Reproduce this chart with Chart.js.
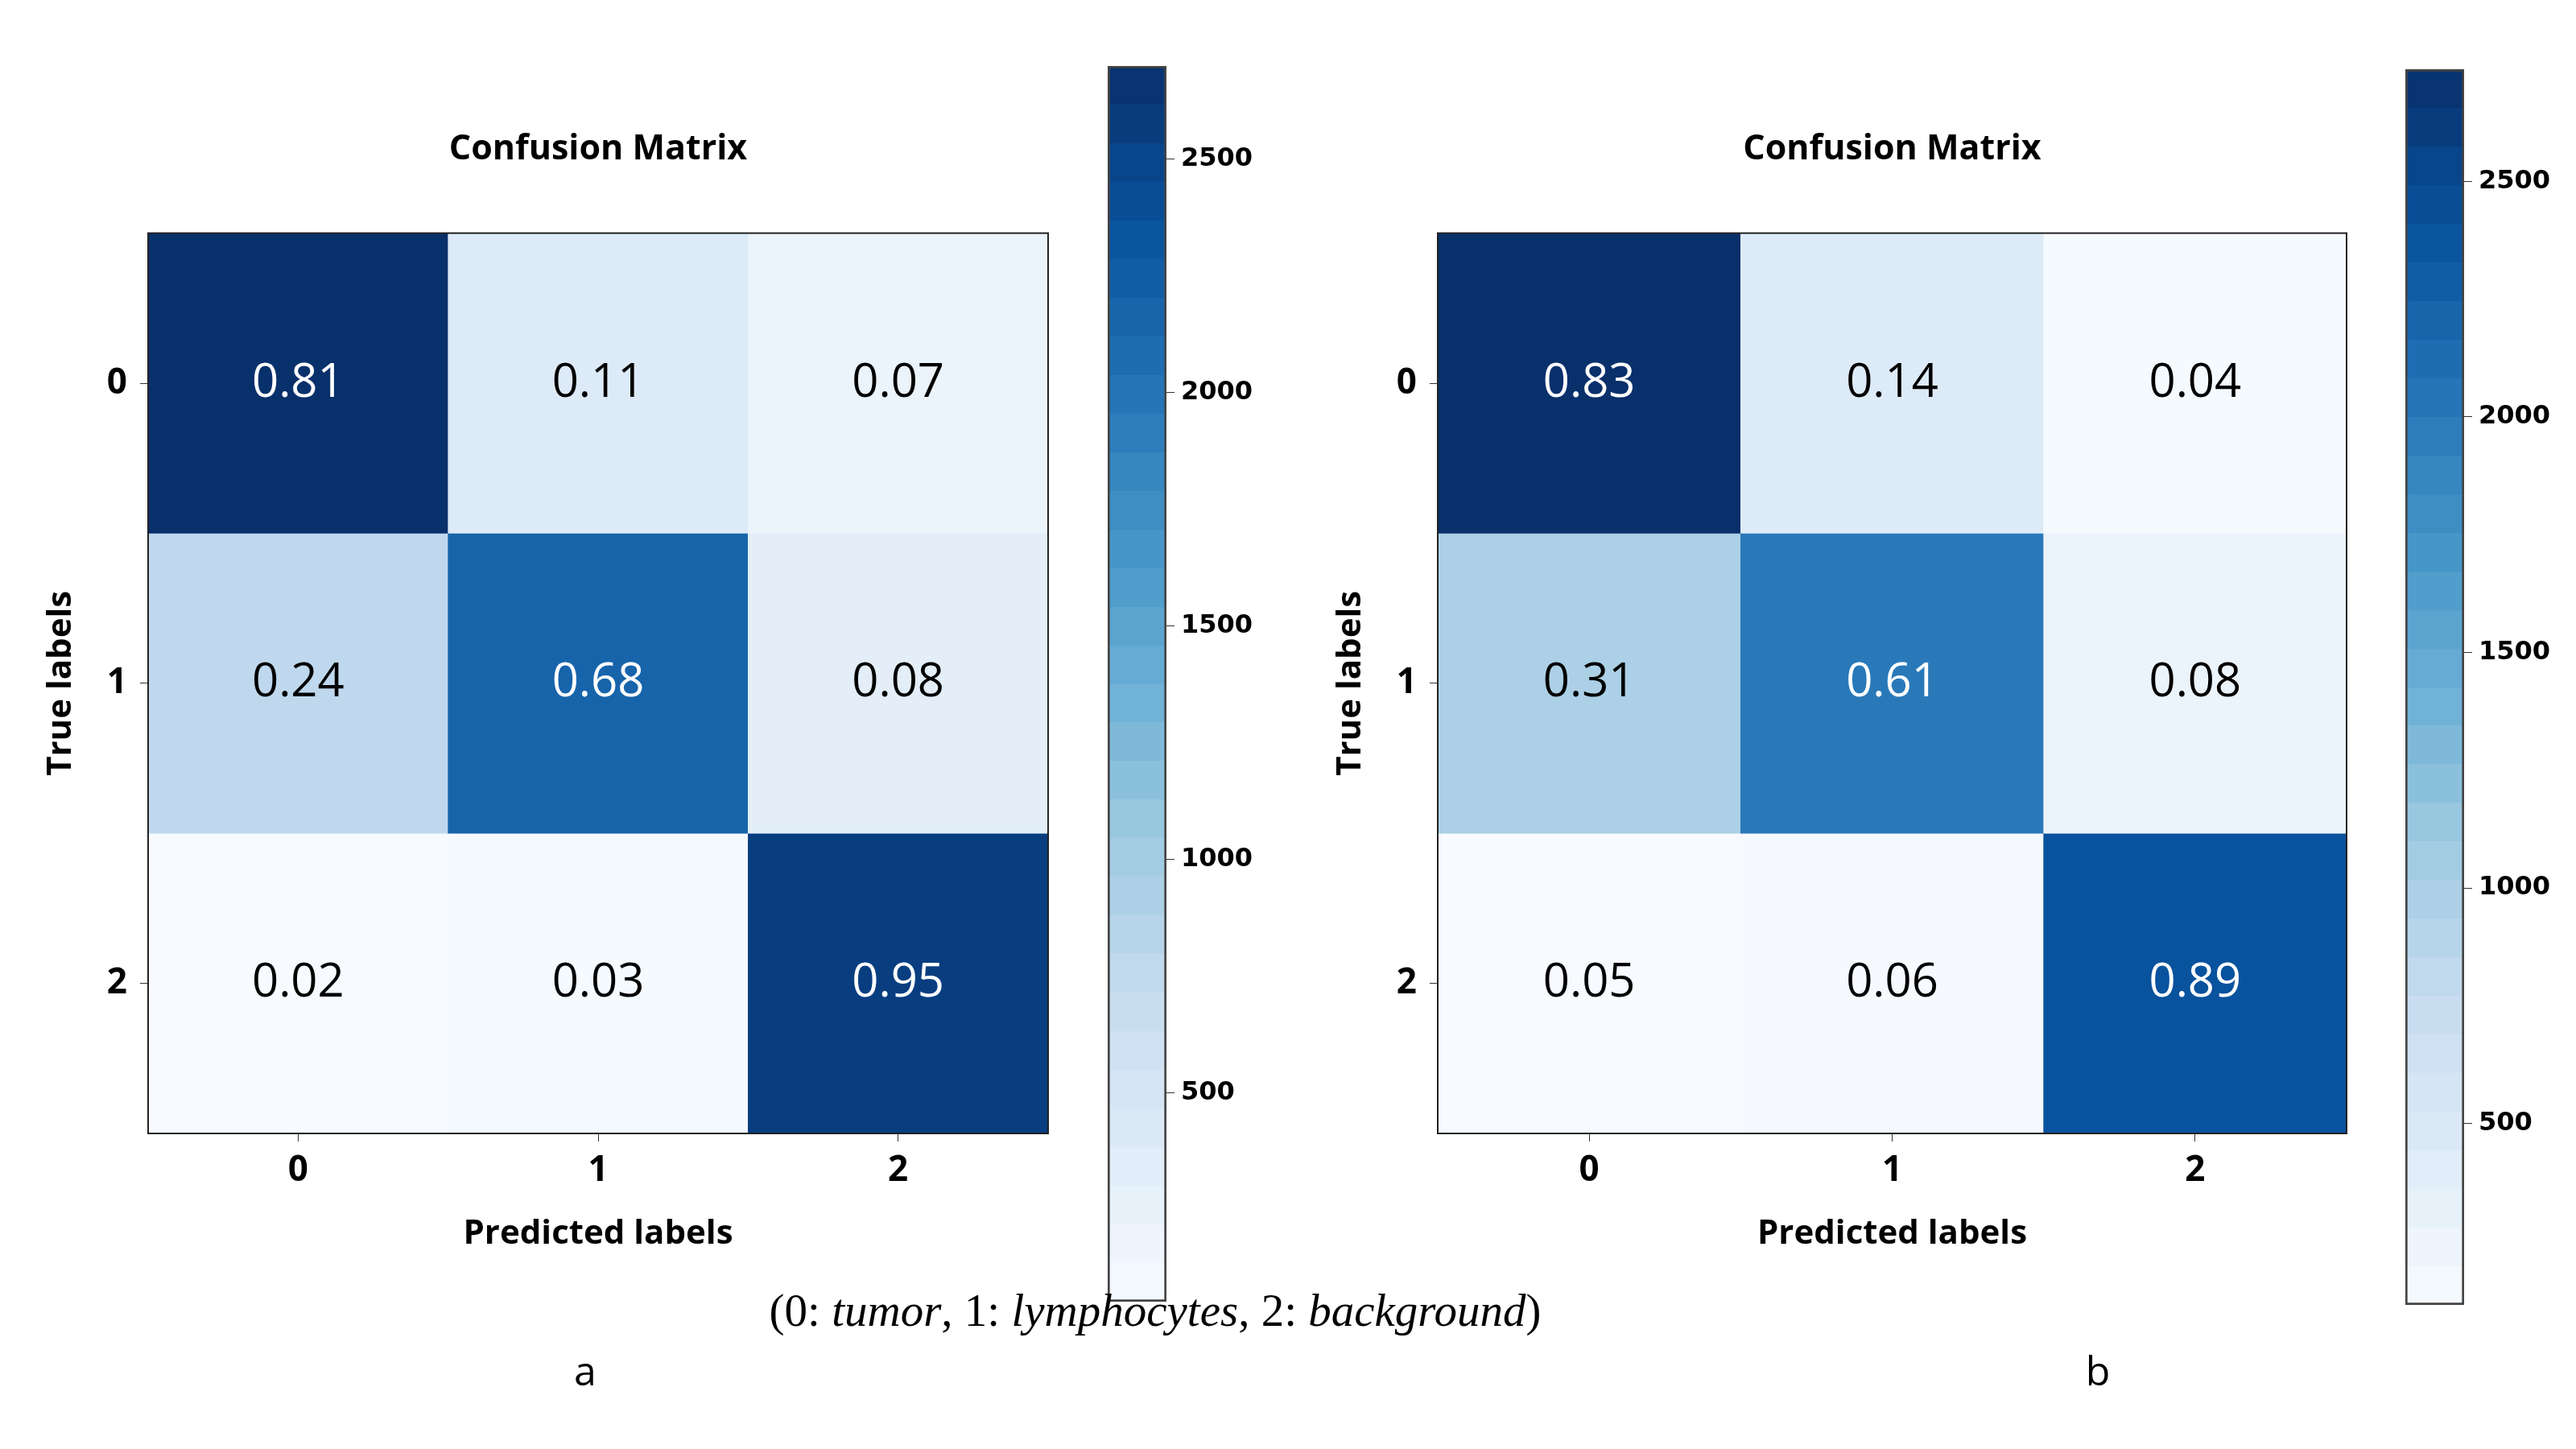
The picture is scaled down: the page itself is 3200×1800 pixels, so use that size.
<!DOCTYPE html>
<html>
<head>
<meta charset="utf-8">
<script src="https://cdn.jsdelivr.net/npm/chart.js@4.4.1/dist/chart.umd.min.js"></script>
<style>
  html, body { margin: 0; padding: 0; background: #fff; }
  #page { position: relative; width: 3200px; height: 1800px; background: #fff; overflow: hidden; }
  canvas { position: absolute; }
  .txt { position: absolute; transform: translate(-50%, -50%); white-space: nowrap; color: #000; }
  #caption { font-family: 'Liberation Serif', 'DejaVu Serif', serif; font-size: 57px; }
  .panel { font-family: 'Open Sans', sans-serif; font-size: 50px; }
</style>
</head>
<body>
<div id="page">
  <canvas id="cmA" width="1502" height="1600" style="left:0px;top:0px"></canvas>
  <canvas id="barA" width="250" height="1535" style="left:1376px;top:82px"></canvas>
  <canvas id="cmB" width="1482" height="1600" style="left:1602px;top:0px"></canvas>
  <canvas id="barB" width="250" height="1535" style="left:2988px;top:86px"></canvas>
  <div id="caption" class="txt" style="left:1435px;top:1627px">(0: <i>tumor</i>, 1: <i>lymphocytes</i>, 2: <i>background</i>)</div>
  <div class="txt panel" style="left:727px;top:1702px">a</div>
  <div class="txt panel" style="left:2606px;top:1702px">b</div>
</div>
<script>
// class ids on both axes
const classLabels = ['0', '1', '2'];

// panel a: printed (row-normalised) values and the counts behind the colours
const ratiosA = [[0.81, 0.11, 0.07], [0.24, 0.68, 0.08], [0.02, 0.03, 0.95]];
const countsA = [[2700, 395, 210], [770, 2170, 320], [53, 80, 2560]];

// panel b
const ratiosB = [[0.83, 0.14, 0.04], [0.31, 0.61, 0.08], [0.05, 0.06, 0.89]];
const countsB = [[2738, 455, 140], [980, 2000, 270], [115, 130, 2400]];

const cbarTicks = [500, 1000, 1500, 2000, 2500];

// matplotlib "Blues"
const bluesStops = ['#f7fbff', '#deebf7', '#c6dbef', '#9ecae1', '#6baed6', '#4292c6', '#2171b5', '#08519c', '#08306b'];

function hexRgb(h) {
  return [1, 3, 5].map(i => parseInt(h.substr(i, 2), 16));
}
function blues(t) {
  t = Math.max(0, Math.min(1, t));
  const p = t * (bluesStops.length - 1);
  const i = Math.min(Math.floor(p), bluesStops.length - 2);
  const f = p - i;
  const a = hexRgb(bluesStops[i]), b = hexRgb(bluesStops[i + 1]);
  const c = a.map((v, k) => Math.round(v + (b[k] - v) * f));
  return 'rgb(' + c.join(',') + ')';
}

const boldFont = (size) => ({ family: "'Open Sans', sans-serif", size: size, weight: 'bold' });

// writes the value in each cell
const cellText = {
  id: 'cellText',
  afterDatasetsDraw(chart) {
    const ctx = chart.ctx;
    ctx.save();
    ctx.font = "58px 'Open Sans', sans-serif";
    ctx.textAlign = 'center';
    ctx.textBaseline = 'middle';
    chart.data.datasets.forEach((ds, r) => {
      chart.getDatasetMeta(r).data.forEach((bar, c) => {
        const p = bar.getProps(['x', 'y', 'base'], true);
        ctx.fillStyle = ds.textColor[c];
        ctx.fillText(ds.ratios[c].toFixed(2), p.x, (p.y + p.base) / 2);
      });
    });
    ctx.restore();
  }
};

// box round the plot
const frame = {
  id: 'frame',
  afterDraw(chart) {
    const a = chart.chartArea, ctx = chart.ctx;
    ctx.save();
    ctx.strokeStyle = '#222';
    ctx.lineWidth = 2;
    ctx.strokeRect(a.left, a.top, a.right - a.left, a.bottom - a.top);
    ctx.restore();
  }
};

function makeMatrix(id, ratios, counts, padRight) {
  const lo = Math.min(...counts.flat()), hi = Math.max(...counts.flat());
  const datasets = ratios.map((row, r) => ({
    label: 'True ' + classLabels[r],
    data: row.map(() => [r - 0.5, r + 0.5]),
    ratios: row,
    backgroundColor: counts[r].map(v => blues((v - lo) / (hi - lo))),
    textColor: counts[r].map(v => v > (lo + hi) / 2 ? '#fff' : '#000'),
    borderWidth: 0,
    barPercentage: 1,
    categoryPercentage: 1,
    grouped: false
  }));

  new Chart(document.getElementById(id), {
    type: 'bar',
    data: { labels: classLabels, datasets: datasets },
    options: {
      responsive: false,
      devicePixelRatio: 1,
      animation: false,
      layout: { padding: { left: 0, right: padRight, top: 0, bottom: 42 } },
      plugins: {
        legend: { display: false },
        tooltip: { enabled: false },
        title: {
          display: true,
          fullSize: false,
          text: 'Confusion Matrix',
          color: '#000',
          font: boldFont(43),
          padding: { top: 160, bottom: 78 }
        }
      },
      scales: {
        x: {
          type: 'category',
          position: 'bottom',
          grid: { display: true, drawOnChartArea: false, drawTicks: true, tickLength: 10, offset: false, color: '#333' },
          border: { display: false },
          ticks: { color: '#000', font: boldFont(44), padding: 10 },
          title: { display: true, text: 'Predicted labels', color: '#000', font: boldFont(42), padding: { top: 0, bottom: 0 } },
          afterFit: s => { s.height = 150; s.paddingLeft = 0; s.paddingRight = 0; }
        },
        y: {
          type: 'linear',
          min: -0.5,
          max: 2.5,
          reverse: true,
          afterBuildTicks: s => { s.ticks = classLabels.map((_, i) => ({ value: i })); },
          grid: { display: true, drawOnChartArea: false, drawTicks: true, tickLength: 10, color: '#333' },
          border: { display: false },
          ticks: { color: '#000', font: boldFont(44), padding: 16, callback: (v, i) => classLabels[i] },
          title: { display: true, text: 'True labels', color: '#000', font: boldFont(42), padding: { top: 51, bottom: 0 } },
          afterFit: s => { s.width = 184; s.paddingTop = 0; s.paddingBottom = 0; }
        }
      }
    },
    plugins: [cellText, frame]
  });
}

function makeColorbar(id, counts) {
  const lo = Math.min(...counts.flat()), hi = Math.max(...counts.flat());
  const bands = 32;
  new Chart(document.getElementById(id), {
    type: 'bar',
    data: {
      labels: [''],
      datasets: [{
        data: [[lo, hi]],
        backgroundColor: (ctx) => {
          const area = ctx.chart.chartArea;
          if (!area) return bluesStops[4];
          const g = ctx.chart.ctx.createLinearGradient(0, area.bottom, 0, area.top);
          for (let i = 0; i < bands; i++) {
            const col = blues((i + 0.5) / bands);
            g.addColorStop(i / bands, col);
            g.addColorStop((i + 1) / bands, col);
          }
          return g;
        },
        borderColor: '#444',
        borderWidth: 3,
        borderSkipped: false,
        barPercentage: 1,
        categoryPercentage: 1
      }]
    },
    options: {
      responsive: false,
      devicePixelRatio: 1,
      animation: false,
      layout: { padding: 0 },
      plugins: { legend: { display: false }, tooltip: { enabled: false } },
      scales: {
        x: { display: false },
        y: {
          type: 'linear',
          position: 'right',
          min: lo,
          max: hi,
          afterBuildTicks: s => { s.ticks = cbarTicks.map(v => ({ value: v })); },
          grid: { display: true, drawOnChartArea: false, drawTicks: true, tickLength: 10, color: '#333' },
          border: { display: false },
          ticks: {
            color: '#000',
            font: { family: "'DejaVu Sans', sans-serif", size: 32, weight: 'bold' },
            padding: 8,
            callback: v => String(v)
          },
          afterFit: s => { s.width = 177; s.paddingTop = 0; s.paddingBottom = 0; }
        }
      }
    }
  });
}

makeMatrix('cmA', ratiosA, countsA, 200);
makeColorbar('barA', countsA);
makeMatrix('cmB', ratiosB, countsB, 169);
makeColorbar('barB', countsB);
</script>
</body>
</html>
